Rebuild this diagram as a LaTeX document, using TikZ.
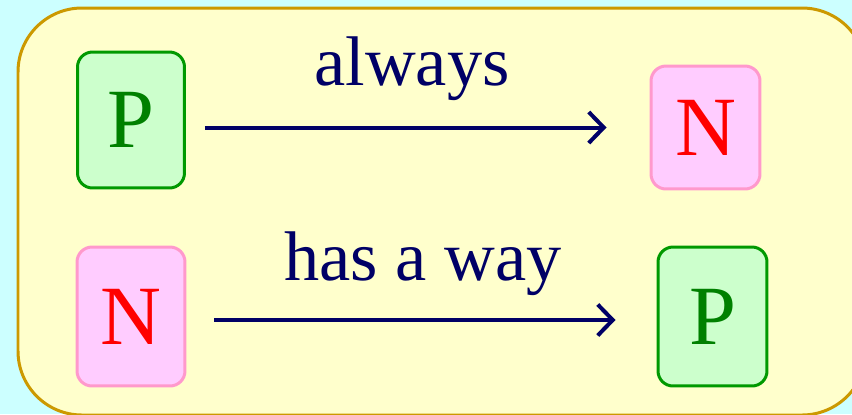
\documentclass[tikz,border=0pt]{standalone}
\usepackage{fontspec}
\setmainfont{Liberation Serif}
\usetikzlibrary{arrows.meta}

\definecolor{bgcyan}{HTML}{CCFFFF}
\definecolor{paneyellow}{HTML}{FFFFCC}
\definecolor{panegold}{HTML}{CC9900}
\definecolor{posline}{HTML}{009900}
\definecolor{posfill}{HTML}{CCFFCC}
\definecolor{postext}{HTML}{008000}
\definecolor{negline}{HTML}{FF99CC}
\definecolor{negfill}{HTML}{FFCCFF}
\definecolor{navy}{HTML}{000066}

\begin{document}
\begin{tikzpicture}[x=0.02cm, y=-0.02cm,
    posbox/.style={draw=posline, fill=posfill, text=postext, line width=0.06cm,
        rounded corners=0.3cm, inner sep=0pt, font=\fontsize{48}{56}\selectfont},
    negbox/.style={draw=negline, fill=negfill, text=red, line width=0.06cm,
        rounded corners=0.3cm, inner sep=0pt, font=\fontsize{48}{56}\selectfont},
    lbl/.style={text=navy, anchor=base, inner sep=0pt, font=\fontsize{40}{48}\selectfont},
    arr/.style={draw=navy, line width=0.08cm, -{Straight Barb[length=0.3cm, width=0.62cm]}}]
    % page background and clipping frame
    \useasboundingbox (0,0) rectangle (852,414);
    \fill[bgcyan] (0,0) rectangle (852,414);
    \clip (0,0) rectangle (852,414);

    % yellow panel, running off the right and bottom edges
    \draw[panegold, fill=paneyellow, line width=0.06cm, rounded corners=1.28cm]
        (18,8) rectangle (866,415);

    % first row: P always goes to N
    \node[posbox, minimum width=2.14cm, minimum height=2.72cm] (p1) at (131,120) {P};
    \node[negbox, minimum width=2.18cm, minimum height=2.46cm] (n1) at (705.5,127.5) {N};
    \draw[arr, shorten <=0.38cm, shorten >=0.86cm] (p1.east |- n1) -- (n1.west);
    \node[lbl] (always) at (412,85) {always};

    % second row: N has a way to P
    \node[negbox, minimum width=2.16cm, minimum height=2.78cm] (n2) at (131,316.5) {N};
    \node[posbox, minimum width=2.18cm, minimum height=2.78cm] (p2) at (712.5,316.5) {P};
    \draw[arr, shorten <=0.56cm, shorten >=0.82cm]
        ([yshift=-0.07cm]n2.east) -- ([yshift=-0.07cm]p2.west);
    \node[lbl] (hasway) at (423,280) {has a way};
\end{tikzpicture}
\end{document}
